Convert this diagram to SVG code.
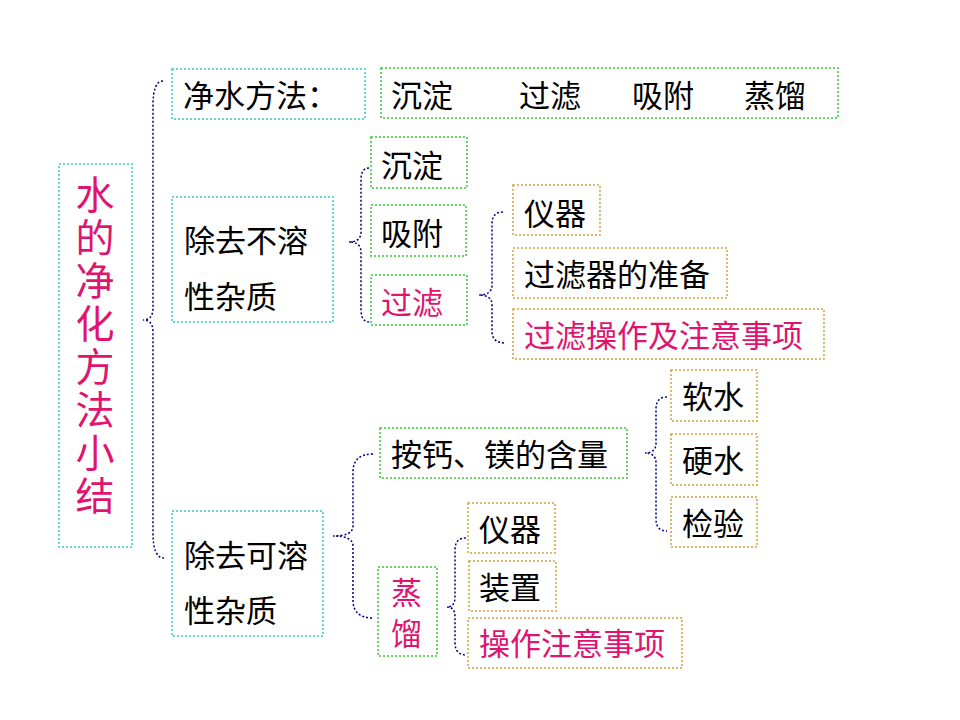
<svg xmlns="http://www.w3.org/2000/svg" width="960" height="720" viewBox="0 0 960 720">
<style>
.box{fill:none;stroke-width:1.5;stroke-dasharray:2 2}
.cy{stroke:#33CCCC}
.gr{stroke:#33CC33}
.or{stroke:#D9A040}
.t{font-family:"Noto Sans CJK SC","Noto Sans",sans-serif;font-size:31px;fill:#000}
.p{fill:#E0146E}
.ttl{font-family:"Noto Sans CJK SC","Noto Sans",sans-serif;font-size:39px;fill:#E0146E;writing-mode:vertical-rl;letter-spacing:4px}
.br{fill:none;stroke:#000080;stroke-width:1.5;stroke-dasharray:2 2}
</style>
<rect width="960" height="720" fill="#fff"/>
<g id="connectors">
<path class="br" d="M163,81 Q153,81 153,106 L153,308 Q153,320 143,320 Q153,320 153,332 L153,533 Q153,558 164,558"/>
<path class="br" d="M369,168 Q361,168 361,180 L361,232 Q361,242 349,242 Q361,242 361,252 L361,310 Q361,322 370,322"/>
<path class="br" d="M503,212 Q492,212 492,224 L492,285 Q492,295 479,295 Q492,295 492,305 L492,331 Q492,343 505,343"/>
<path class="br" d="M373,454 Q353,454 353,472 L353,526 Q353,536 333,536 Q353,536 353,546 L353,600 Q353,618 373,618"/>
<path class="br" d="M667,397 Q656,397 656,409 L656,443 Q656,453 645,453 Q656,453 656,463 L656,519 Q656,531 667,531"/>
<path class="br" d="M466,538 Q455,538 455,550 L455,597 Q455,607 447,607 Q455,607 455,617 L455,643 Q455,655 467,655"/>
</g>
<g id="title">
<rect class="box cy" x="59" y="164" width="73" height="383"/>
<text class="ttl" x="95" y="175">水的净化方法小结</text>
</g>
<g id="methods-label">
<rect class="box cy" x="172" y="69" width="193" height="50"/>
<text class="t" x="183" y="107">净水方法：</text>
</g>
<g id="methods-list">
<rect class="box gr" x="381" y="68" width="457" height="50"/>
<text class="t" x="391" y="107">沉淀</text>
<text class="t" x="519" y="107">过滤</text>
<text class="t" x="632" y="107">吸附</text>
<text class="t" x="744" y="107">蒸馏</text>
</g>
<g id="insoluble">
<rect class="box cy" x="172" y="197" width="161" height="125"/>
<text class="t" x="184" y="252">除去不溶</text>
<text class="t" x="184" y="308">性杂质</text>
</g>
<g id="sediment">
<rect class="box gr" x="371" y="137" width="96" height="51"/>
<text class="t" x="381" y="177">沉淀</text>
</g>
<g id="adsorb">
<rect class="box gr" x="371" y="205" width="95" height="51"/>
<text class="t" x="381" y="245">吸附</text>
</g>
<g id="filter">
<rect class="box gr" x="371" y="275" width="96" height="50"/>
<text class="t p" x="381" y="314">过滤</text>
</g>
<g id="filter-instrument">
<rect class="box or" x="513" y="185" width="87" height="50"/>
<text class="t" x="524" y="225">仪器</text>
</g>
<g id="filter-prep">
<rect class="box or" x="513" y="248" width="214" height="50"/>
<text class="t" x="524" y="286">过滤器的准备</text>
</g>
<g id="filter-op">
<rect class="box or" x="513" y="309" width="311" height="50"/>
<text class="t p" x="524" y="347">过滤操作及注意事项</text>
</g>
<g id="soluble">
<rect class="box cy" x="172" y="511" width="151" height="125"/>
<text class="t" x="184" y="567">除去可溶</text>
<text class="t" x="184" y="622">性杂质</text>
</g>
<g id="ca-mg">
<rect class="box gr" x="380" y="428" width="247" height="50"/>
<text class="t" x="391" y="466">按钙、镁的含量</text>
</g>
<g id="soft">
<rect class="box or" x="671" y="370" width="86" height="51"/>
<text class="t" x="682" y="408">软水</text>
</g>
<g id="hard">
<rect class="box or" x="671" y="434" width="86" height="51"/>
<text class="t" x="682" y="472">硬水</text>
</g>
<g id="test">
<rect class="box or" x="671" y="497" width="86" height="50"/>
<text class="t" x="682" y="535">检验</text>
</g>
<g id="distill">
<rect class="box gr" x="378" y="567" width="59" height="89"/>
<text class="t p" x="391" y="604">蒸</text>
<text class="t p" x="391" y="645">馏</text>
</g>
<g id="distill-instrument">
<rect class="box or" x="468" y="503" width="87" height="50"/>
<text class="t" x="479" y="541">仪器</text>
</g>
<g id="distill-device">
<rect class="box or" x="469" y="561" width="87" height="50"/>
<text class="t" x="479" y="599">装置</text>
</g>
<g id="distill-op">
<rect class="box or" x="468" y="618" width="214" height="50"/>
<text class="t p" x="479" y="655">操作注意事项</text>
</g>
</svg>
